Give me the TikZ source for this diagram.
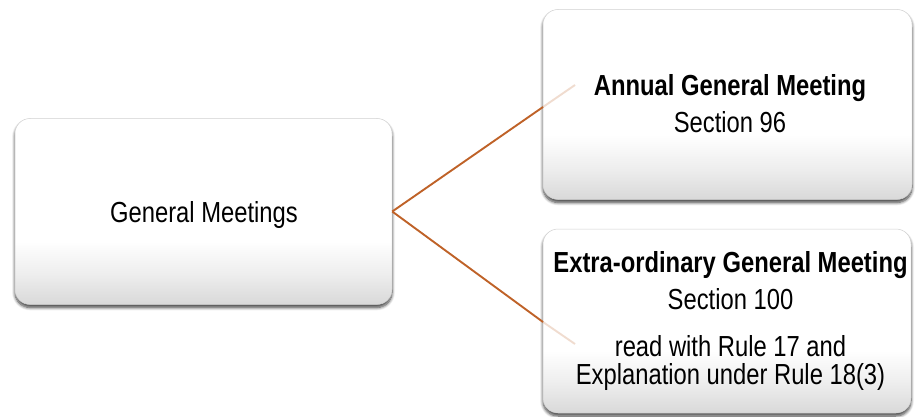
\documentclass[tikz,border=0pt]{standalone}
\usepackage{fontspec}
\setmainfont{Liberation Sans}[FakeStretch=0.82]
\usetikzlibrary{shadows.blur}
\pgfdeclareverticalshading{boxshade}{100bp}{color(0bp)=(black!15); color(25bp)=(black!15); color(33bp)=(black!7); color(42bp)=(white); color(100bp)=(white)}
\definecolor{linkcol}{HTML}{BF6228}
\tikzset{
  box/.style={draw=black!18, line width=0.5pt, rounded corners=15pt, shading=boxshade,
    blur shadow={shadow xshift=0pt, shadow yshift=-3pt, shadow blur steps=8, shadow opacity=75, shadow blur radius=3pt},
    inner sep=0pt},
  txt/.style={anchor=base, inner sep=0pt, font=\fontsize{29}{35}\selectfont},
  btxt/.style={txt, font=\fontsize{29}{35}\selectfont\bfseries},
  link/.style={draw=linkcol, line width=1.9pt},
  fade/.style={draw=linkcol, line width=1.9pt, opacity=0.22}
}
\begin{document}
\begin{tikzpicture}[x=1pt,y=-1pt]
\useasboundingbox (0,0) rectangle (915,417);
% boxes
\node[box, minimum width=377pt, minimum height=186pt] (gm) at (203.5,211.5) {};
\node[box, minimum width=369pt, minimum height=190pt] (agm) at (727.5,104.5) {};
\node[box, minimum width=368pt, minimum height=184pt] (egm) at (727,321) {};
% connector end points
\coordinate (a1) at (543,107);
\coordinate (a2) at (575,85);
\coordinate (e1) at (543,322);
\coordinate (e2) at (575,344);
\draw[link] (gm.east) -- (a1);
\draw[fade] (a1) -- (a2);
\draw[link] (gm.east) -- (e1);
\draw[fade] (e1) -- (e2);
% texts
\node[txt] (gmt) at (204,222) {General Meetings};
\node[btxt] (agmt1) at (730,96) {Annual General Meeting};
\node[txt] (agmt2) at (730,132) {Section 96};
\node[btxt] (egmt1) at (730.5,272) {Extra-ordinary General Meeting};
\node[txt] (egmt2) at (730.5,309) {Section 100};
\node[txt] (egmt3) at (730.5,356) {read with Rule 17 and};
\node[txt] (egmt4) at (730.5,384) {Explanation under Rule 18(3)};
\end{tikzpicture}
\end{document}
